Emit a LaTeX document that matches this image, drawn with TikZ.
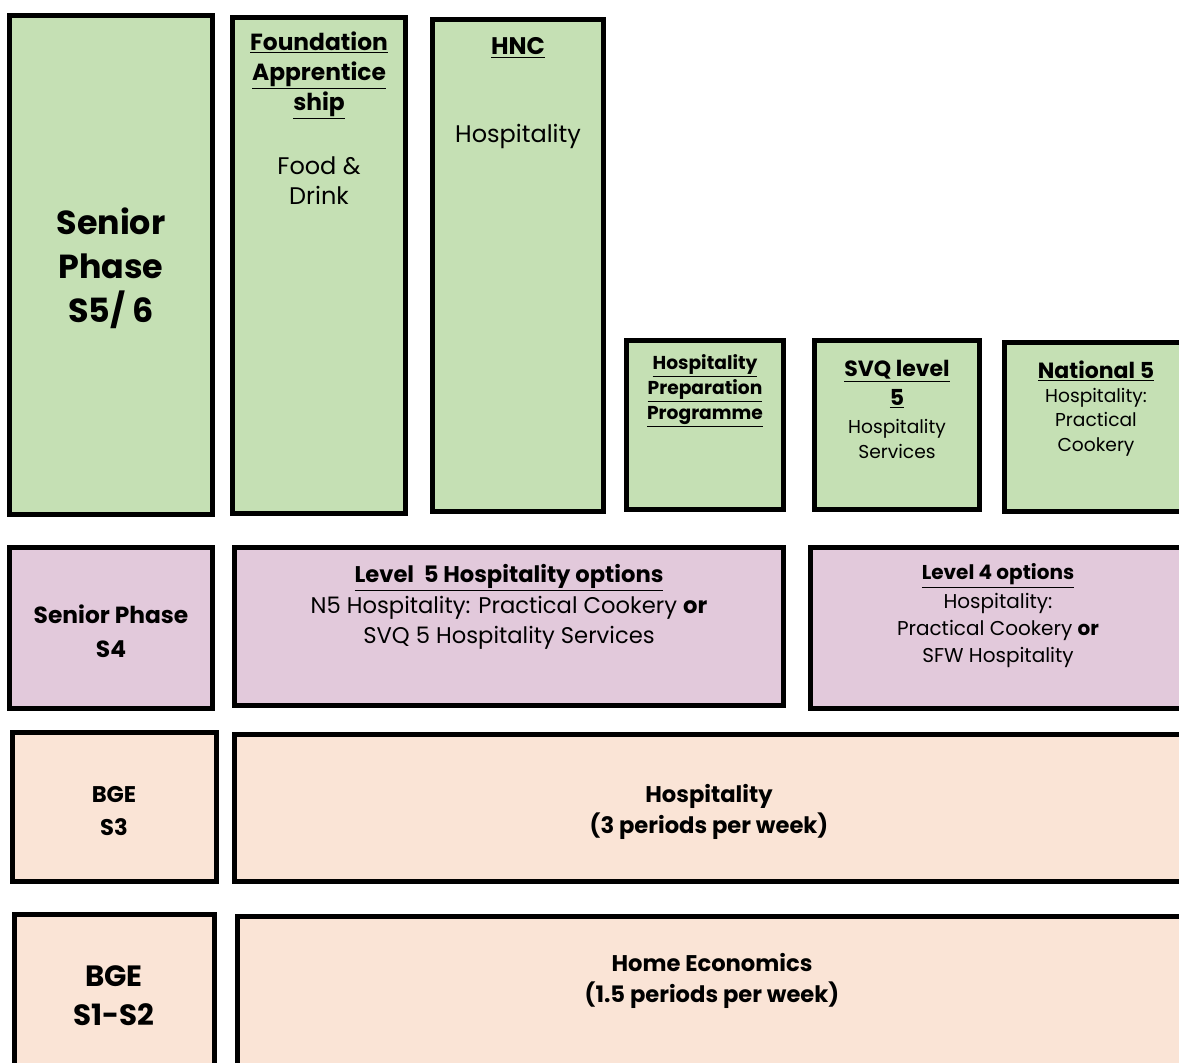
\documentclass[tikz,border=0pt]{standalone}
\usepackage{fontspec}
\setmainfont{Poppins}
\usetikzlibrary{positioning}
\definecolor{sagegreen}{RGB}{197,224,180}
\definecolor{lilac}{RGB}{226,201,219}
\definecolor{peach}{RGB}{250,228,214}
\begin{document}
\begin{tikzpicture}[x=0.75pt,y=-0.75pt]

    \tikzset{
      stage/.style={
        draw=black,
        line width=3.75pt,
        inner sep=0pt,
      },
      label/.style={
        anchor=center,
        align=center,
        inner sep=0pt,
        yshift=-2pt,
      },
    }
    \useasboundingbox (0,0) rectangle (1179,1063);
    \clip (0,0) rectangle (1179,1063);
	\node[stage, fill=sagegreen, minimum width=203*0.75pt, minimum height=499*0.75pt] (s56) at (111,265) {};
	\node[stage, fill=sagegreen, minimum width=173*0.75pt, minimum height=496*0.75pt] (found) at (319,265.5) {};
	\node[stage, fill=sagegreen, minimum width=171*0.75pt, minimum height=492*0.75pt] (hnc) at (518,265.5) {};
	\node[stage, fill=sagegreen, minimum width=157*0.75pt, minimum height=169*0.75pt] (hpp) at (705,425) {};
	\node[stage, fill=sagegreen, minimum width=165*0.75pt, minimum height=169*0.75pt] (svq) at (897,425) {};
	\node[stage, fill=sagegreen, minimum width=193*0.75pt, minimum height=169*0.75pt] (nat5) at (1101,427) {};
	\node[stage, fill=lilac, minimum width=203*0.75pt, minimum height=161*0.75pt] (s4) at (111,628) {};
	\node[stage, fill=lilac, minimum width=549*0.75pt, minimum height=158*0.75pt] (lvl5) at (509,626.5) {};
	\node[stage, fill=lilac, minimum width=387*0.75pt, minimum height=161*0.75pt] (lvl4) at (1004,628) {};
	\node[stage, fill=peach, minimum width=204*0.75pt, minimum height=149*0.75pt] (s3) at (114.5,807) {};
	\node[stage, fill=peach, minimum width=963*0.75pt, minimum height=147*0.75pt] (hosp) at (716,808) {};
	\node[stage, fill=peach, minimum width=200*0.75pt, minimum height=183*0.75pt] (s12) at (114.5,1006) {};
	\node[stage, fill=peach, minimum width=960*0.75pt, minimum height=181*0.75pt] (homeec) at (717.5,1007) {};

	\node[label, font=\fontsize{25}{33}\selectfont\bfseries] (s56 text) at (111,266) {Senior\\Phase\\S5/ 6};
	\node[label, font=\fontsize{17.5}{22.5}\selectfont\bfseries] (found title) at (319,73) {\underline{Foundation}\\\underline{Apprentice}\\\underline{ship}};
	\node[label, font=\fontsize{18}{22.5}\selectfont] (found text) at (319,178) {Food \&\\Drink};
	\node[label, font=\fontsize{18}{22.5}\selectfont\bfseries] (hnc title) at (518,45) {\underline{HNC}};
	\node[label, font=\fontsize{18}{22.5}\selectfont] (hnc text) at (518,134) {Hospitality};
	\node[label, font=\fontsize{14}{18.75}\selectfont\bfseries] (hpp title) at (705,388) {\underline{Hospitality}\\\underline{Preparation}\\\underline{Programme}};
	\node[label, font=\fontsize{16.5}{21.75}\selectfont\bfseries] (svq title) at (897,381.5) {\underline{SVQ level}\\\underline{5}};
	\node[label, font=\fontsize{14}{18.75}\selectfont] (svq text) at (897,436.5) {Hospitality\\Services};
	\node[label, font=\fontsize{16.5}{21.75}\selectfont\bfseries] (nat5 title) at (1096,368) {\underline{National 5}};
	\node[label, font=\fontsize{14}{18.5}\selectfont] (nat5 text) at (1096,419.5) {Hospitality:\\Practical\\Cookery};
	\node[label, font=\fontsize{17.5}{25.5}\selectfont\bfseries] (s4 text) at (111,629) {Senior Phase\\S4};
	\node[label, font=\fontsize{17}{22.5}\selectfont\bfseries] (lvl5 title) at (509,575) {\underline{Level\ \ 5 Hospitality options}};
	\node[label, font=\fontsize{17}{22.5}\selectfont] (lvl5 text) at (509,620) {N5 Hospitality: Practical Cookery \textbf{or}\\SVQ 5 Hospitality Services};
	\node[label, font=\fontsize{15}{20.25}\selectfont\bfseries] (lvl4 title) at (998,573) {\underline{Level 4 options}};
	\node[label, font=\fontsize{15}{20.25}\selectfont] (lvl4 text) at (998,628) {Hospitality:\\Practical Cookery \textbf{or}\\SFW Hospitality};
	\node[label, font=\fontsize{17}{24.75}\selectfont\bfseries] (s3 text) at (114,808.5) {BGE\\S3};
	\node[label, font=\fontsize{17}{23.25}\selectfont\bfseries] (hosp text) at (709,809.5) {Hospitality\\(3 periods per week)};
	\node[label, font=\fontsize{22}{29.25}\selectfont\bfseries] (s12 text) at (114,993.5) {BGE\\S1-S2};
	\node[label, font=\fontsize{17}{23.25}\selectfont\bfseries] (homeec text) at (712,978.5) {Home Economics\\(1.5 periods per week)};

\end{tikzpicture}
\end{document}
